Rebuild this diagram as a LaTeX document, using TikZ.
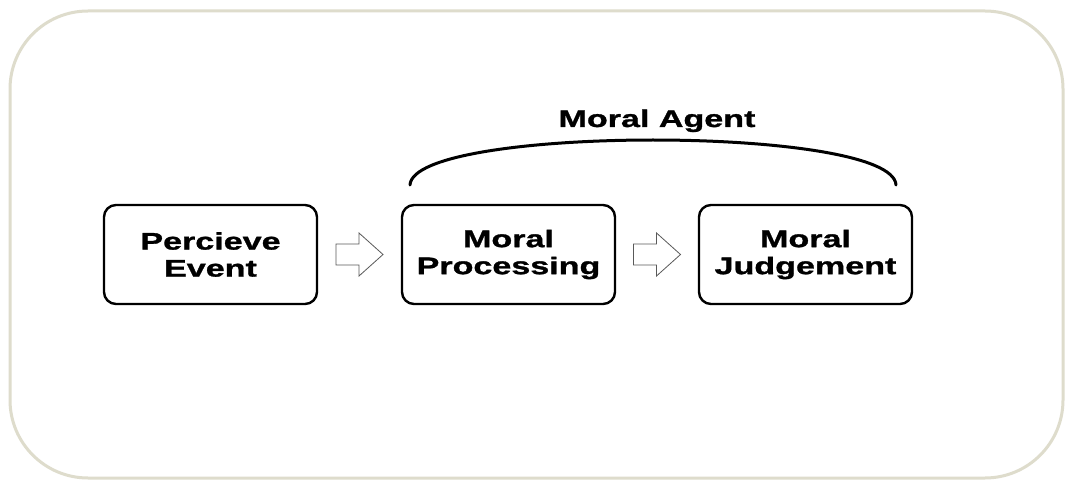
\documentclass[tikz,border=0pt]{standalone}
\usepackage{fontspec}
\setmainfont{Liberation Sans}
\newfontfamily\widefont[FakeStretch=1.42,FakeBold=1.2]{Liberation Sans}
\usetikzlibrary{calc}
\definecolor{framec}{RGB}{222,220,204}
\tikzset{
  stepbox/.style={draw=black, line width=2.4pt, rounded corners=12pt, minimum width=213pt, minimum height=99pt, align=center, font=\widefont\fontsize{24}{27}\selectfont\bfseries, inner sep=0pt},
  blockarrow/.style={draw=black!65, line width=0.8pt, fill=white, line join=miter},
  bracket/.style={draw=black, line width=3pt, line cap=round},
  title/.style={font=\widefont\fontsize{24}{27}\selectfont\bfseries, inner sep=0pt, anchor=base},
}
\begin{document}
\begin{tikzpicture}[x=1pt,y=-1pt]
\useasboundingbox (0,0) rectangle (1065,481);
\fill[white] (0,0) rectangle (1065,481);
\draw[framec, line width=3pt, rounded corners=78pt] (10,11) rectangle (1063,478);
\node[stepbox] (pe) at (210.5,254.5) {Percieve\\Event};
\node[stepbox] (mp) at (508.5,254.5) {Moral\\Processing};
\node[stepbox] (mj) at (805.5,254.5) {Moral\\Judgement};
\coordinate (m1) at ($(pe.east)!0.5!(mp.west)$);
\coordinate (m2) at ($(mp.east)!0.5!(mj.west)$);
\foreach \m in {m1,m2}{
  \draw[blockarrow] ($(\m)+(-23.5,-10.5)$) -- ($(\m)+(-0.5,-10.5)$) -- ($(\m)+(-0.5,-21.5)$) -- ($(\m)+(23.5,0)$) -- ($(\m)+(-0.5,21.5)$) -- ($(\m)+(-0.5,10.5)$) -- ($(\m)+(-23.5,10.5)$) -- cycle;
}
\coordinate (b1) at (410,185);
\coordinate (b2) at (896,185);
\draw[bracket] (b1) .. controls (413,125) and (893,125) .. (b2);
\node[title] (ma) at (657,127) {Moral Agent};
\end{tikzpicture}
\end{document}
